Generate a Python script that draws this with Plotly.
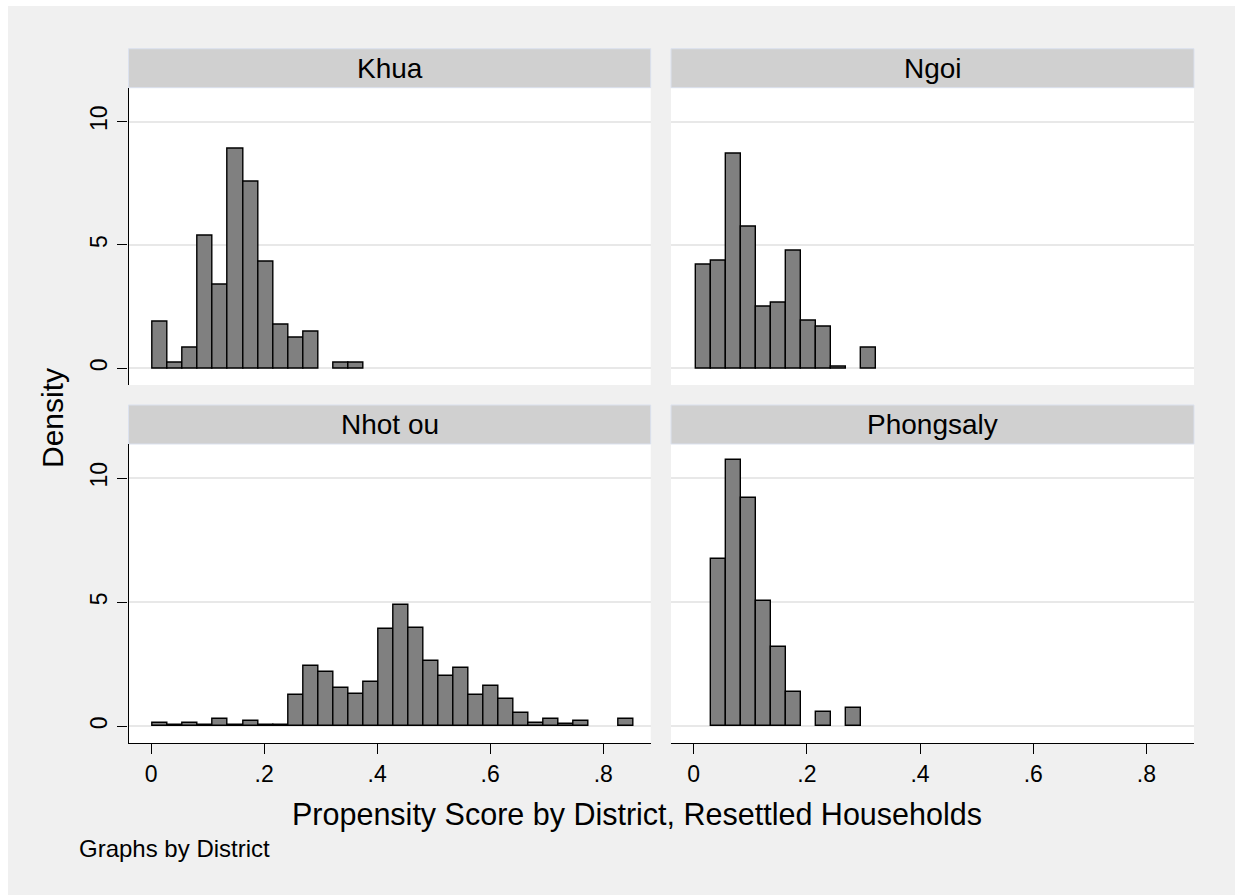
import plotly.graph_objects as go

W, H = 1235, 895

# Common histogram bins (start and width in propensity-score units)
bin_start = 0.0033
bin_width = 0.02655

# Density per bin for each district (0 = empty bin)
khua = [1.88, 0.23, 0.84, 5.39, 3.40, 8.89, 7.57, 4.34, 1.76, 1.22, 1.49, 0, 0.24, 0.24]
ngoi = [4.21, 4.35, 8.71, 5.76, 2.51, 2.67, 4.77, 1.94, 1.67, 0.08, 0, 0.83]
nhot_ou = [0.15, 0.07, 0.12, 0.07, 0.31, 0.07, 0.22, 0.07, 0.07, 1.26, 2.45, 2.18,
           1.56, 1.29, 1.79, 3.92, 4.91, 3.97, 2.63, 2.05, 2.34, 1.26, 1.64, 1.11,
           0.53, 0.14, 0.31, 0.08, 0.22, 0, 0, 0.31]
phongsaly = [0, 6.75, 10.73, 9.20, 5.05, 3.21, 1.37, 0, 0.58, 0, 0.75]

districts = ["Khua", "Ngoi", "Nhot ou", "Phongsaly"]
series = [khua, ngoi, nhot_ou, phongsaly]

x_ticks = [0, 0.2, 0.4, 0.6, 0.8]
x_tick_labels = ["0", ".2", ".4", ".6", ".8"]
y_ticks = [0, 5, 10]
y_tick_labels = ["0", "5", "10"]

FONT = "Liberation Sans, Arial, sans-serif"

# Panel geometry in pixels (left, right, top, bottom of plot area)
cols = [(128.5, 650.7), (671.0, 1194.0)]
rows = [(87.7, 385.0), (444.0, 743.3)]
strip_h = 39.0

fig = go.Figure()
shapes = [
    dict(type="rect", xref="paper", yref="paper", x0=0, x1=8 / W, y0=0, y1=1,
         fillcolor="white", line=dict(width=0), layer="below"),
    dict(type="rect", xref="paper", yref="paper", x0=0, x1=1, y0=1 - 6 / H, y1=1,
         fillcolor="white", line=dict(width=0), layer="below"),
]
annotations = []

for k, (name, vals) in enumerate(zip(districts, series)):
    r, c = divmod(k, 2)
    xl, xr = cols[c]
    yt, yb = rows[r]
    ax = "" if k == 0 else str(k + 1)
    xs = [bin_start + (i + 0.5) * bin_width for i, v in enumerate(vals) if v > 0]
    ys = [v for v in vals if v > 0]
    fig.add_trace(go.Bar(
        x=xs, y=ys, width=bin_width,
        marker=dict(color="#808080", line=dict(color="black", width=1.4)),
        xaxis="x" + ax, yaxis="y" + ax, showlegend=False, hoverinfo="x+y",
    ))
    bottom_row = r == 1
    left_col = c == 0
    fig.layout["xaxis" + ax] = dict(
        domain=[xl / W, xr / W], anchor="y" + ax, range=[-0.04, 0.884],
        showgrid=False, zeroline=False,
        showline=bottom_row, linecolor="black", linewidth=1.3,
        ticks="outside" if bottom_row else "", ticklen=10, tickwidth=1.3,
        tickcolor="black", showticklabels=bottom_row,
        tickvals=x_ticks, ticktext=x_tick_labels,
        tickfont=dict(family=FONT, size=23, color="black"),
    )
    fig.layout["yaxis" + ax] = dict(
        domain=[(H - yb) / H, (H - yt) / H], anchor="x" + ax, range=[-0.68, 11.38],
        showgrid=True, gridcolor="#e8e8e8", gridwidth=1.6, zeroline=False,
        showline=left_col, linecolor="black", linewidth=1.3,
        ticks="outside" if left_col else "", ticklen=10, tickwidth=1.3,
        tickcolor="black", showticklabels=left_col,
        tickvals=y_ticks, ticktext=y_tick_labels, tickangle=-90,
        ticklabelstandoff=1,
        tickfont=dict(family=FONT, size=23, color="black"),
    )
    # Panel header strip
    shapes.append(dict(
        type="rect", xref="paper", yref="paper",
        x0=xl / W, x1=xr / W, y0=(H - yt) / H, y1=(H - yt + strip_h) / H,
        fillcolor="#d0d0d0", line=dict(color="#dbe1ee", width=1), layer="below",
    ))
    annotations.append(dict(
        text=name, xref="paper", yref="paper",
        x=(xl + xr) / 2 / W, y=(H - yt + strip_h / 2) / H,
        xanchor="center", yanchor="middle", showarrow=False,
        font=dict(family=FONT, size=28, color="black"),
    ))

annotations += [
    dict(text="Density", xref="paper", yref="paper", x=53 / W, y=(H - 418) / H,
         xanchor="center", yanchor="middle", textangle=-90, showarrow=False,
         font=dict(family=FONT, size=30, color="black")),
    dict(text="Propensity Score by District, Resettled Households",
         xref="paper", yref="paper", x=637 / W, y=(H - 814) / H,
         xanchor="center", yanchor="middle", showarrow=False,
         font=dict(family=FONT, size=30.5, color="black")),
    dict(text="Graphs by District", xref="paper", yref="paper",
         x=77 / W, y=(H - 848) / H, xanchor="left", yanchor="middle",
         showarrow=False, font=dict(family=FONT, size=24, color="black")),
]

fig.update_layout(
    width=W, height=H, autosize=False,
    margin=dict(l=0, r=0, t=0, b=0, pad=0),
    paper_bgcolor="#f0f0f0", plot_bgcolor="white",
    bargap=0, shapes=shapes, annotations=annotations,
    font=dict(family=FONT, color="black"),
)

fig.write_html("out.html", config={"displayModeBar": False})
